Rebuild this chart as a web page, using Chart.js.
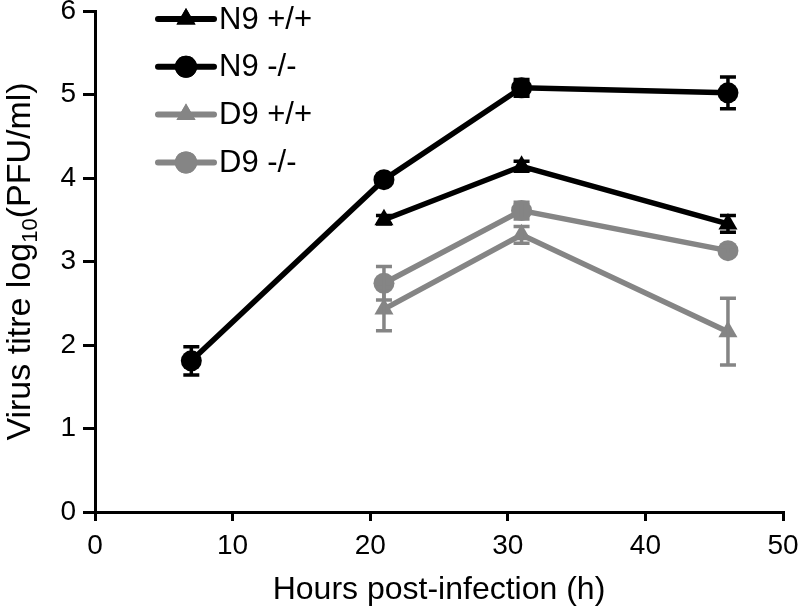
<!DOCTYPE html>
<html>
<head>
<meta charset="utf-8">
<script src="https://cdn.jsdelivr.net/npm/chart.js@4"></script>
<style>
  html, body { margin: 0; padding: 0; background: #fff; }
  #wrap { width: 800px; height: 614px; }
</style>
</head>
<body>
<div id="wrap"><canvas id="titreChart" width="800" height="614"></canvas></div>
<script>
// values
const seriesNames = ['N9 +/+', 'N9 -/-', 'D9 +/+', 'D9 -/-'];
const n9wtHours = [21, 31, 46];
const n9wtTitre = [3.50, 4.14, 3.45];
const n9wtErr = [0.05, 0.06, 0.10];
const n9koHours = [7, 21, 31, 46];
const n9koTitre = [1.81, 3.98, 5.08, 5.02];
const n9koErr = [0.17, 0.05, 0.10, 0.19];
const d9wtHours = [21, 31, 46];
const d9wtTitre = [2.43, 3.32, 2.16];
const d9wtErr = [0.26, 0.10, 0.40];
const d9koHours = [21, 31, 46];
const d9koTitre = [2.74, 3.61, 3.13];
const d9koErr = [0.20, 0.10, 0.05];
const xTicks = [0, 10, 20, 30, 40, 50];
const yTicks = [0, 1, 2, 3, 4, 5, 6];

const black = '#000000';
const grey = '#858585';
const fontFam = '"Liberation Sans", Arial, sans-serif';

function pts(xs, ys) {
  return xs.map((x, i) => ({ x: x, y: ys[i] }));
}

function makeSet(label, xs, ys, errs, colour, shape) {
  return {
    label: label,
    data: pts(xs, ys),
    errors: errs,
    borderColor: colour,
    backgroundColor: colour,
    borderWidth: 5.5,
    pointStyle: shape,
    pointRadius: shape === 'triangle' ? 11 : 10.5,
    pointBorderWidth: 0,
    pointBackgroundColor: colour,
    fill: false,
    tension: 0
  };
}

const errorBars = {
  id: 'errorBars',
  afterDatasetsDraw(chart) {
    const ctx = chart.ctx;
    const ys = chart.scales.y;
    chart.data.datasets.forEach((ds, di) => {
      const meta = chart.getDatasetMeta(di);
      ctx.save();
      ctx.strokeStyle = ds.borderColor;
      ctx.lineWidth = 3.5;
      meta.data.forEach((el, i) => {
        const v = ds.data[i].y, e = ds.errors[i];
        const top = ys.getPixelForValue(v + e);
        const bot = ys.getPixelForValue(v - e);
        ctx.beginPath();
        ctx.moveTo(el.x, top); ctx.lineTo(el.x, bot);
        ctx.moveTo(el.x - 8, top); ctx.lineTo(el.x + 8, top);
        ctx.moveTo(el.x - 8, bot); ctx.lineTo(el.x + 8, bot);
        ctx.stroke();
      });
      ctx.restore();
    });
  }
};

const insideLegend = {
  id: 'insideLegend',
  afterDraw(chart) {
    const ctx = chart.ctx;
    chart.data.datasets.forEach((ds, i) => {
      const y = 19 + i * 47.8;
      ctx.save();
      ctx.strokeStyle = ds.borderColor;
      ctx.fillStyle = ds.borderColor;
      ctx.lineWidth = 6;
      ctx.lineCap = 'round';
      ctx.beginPath();
      ctx.moveTo(158, y); ctx.lineTo(214, y);
      ctx.stroke();
      Chart.helpers.drawPoint(ctx, { pointStyle: ds.pointStyle, radius: 11, borderWidth: 0 }, 186, y);
      ctx.fill();
      ctx.fillStyle = black;
      ctx.font = '31px ' + fontFam;
      ctx.textBaseline = 'middle';
      ctx.fillText(ds.label, 219, y + 1);
      ctx.restore();
    });
  }
};

// y title drawn by hand so that "10" can sit as a subscript
const yTitle = {
  id: 'yTitle',
  afterDraw(chart) {
    const ctx = chart.ctx;
    const area = chart.chartArea;
    const partA = 'Virus titre log';
    const sub = '10';
    const partB = '(PFU/ml)';
    ctx.save();
    ctx.fillStyle = black;
    ctx.textBaseline = 'alphabetic';
    const big = '34px ' + fontFam, small = '22px ' + fontFam;
    ctx.font = big;
    const wA = ctx.measureText(partA).width, wB = ctx.measureText(partB).width;
    ctx.font = small;
    const wS = ctx.measureText(sub).width;
    const total = wA + wS + wB;
    ctx.translate(30, (area.top + area.bottom) / 2);
    ctx.rotate(-Math.PI / 2);
    let x = -total / 2;
    ctx.font = big;
    ctx.fillText(partA, x, 0); x += wA;
    ctx.font = small;
    ctx.fillText(sub, x, 7); x += wS;
    ctx.font = big;
    ctx.fillText(partB, x, 0);
    ctx.restore();
  }
};

const ctx = document.getElementById('titreChart').getContext('2d');
new Chart(ctx, {
  type: 'line',
  data: {
    datasets: [
      makeSet(seriesNames[0], n9wtHours, n9wtTitre, n9wtErr, black, 'triangle'),
      makeSet(seriesNames[1], n9koHours, n9koTitre, n9koErr, black, 'circle'),
      makeSet(seriesNames[2], d9wtHours, d9wtTitre, d9wtErr, grey, 'triangle'),
      makeSet(seriesNames[3], d9koHours, d9koTitre, d9koErr, grey, 'circle')
    ]
  },
  options: {
    responsive: false,
    animation: false,
    layout: { padding: { top: 10, right: 17, left: 0, bottom: 0 } },
    plugins: {
      legend: { display: false },
      tooltip: { enabled: false }
    },
    scales: {
      x: {
        type: 'linear',
        min: 0, max: 50,
        afterFit(s) { s.height = 102; s.paddingLeft = 0; s.paddingRight = 0; },
        afterBuildTicks(s) { s.ticks = xTicks.map(v => ({ value: v })); },
        grid: { drawOnChartArea: false, drawTicks: true, tickLength: 9, color: black, lineWidth: 3 },
        border: { color: black, width: 3 },
        ticks: { color: black, font: { size: 28, family: fontFam }, padding: 8, maxRotation: 0 },
        title: { display: true, text: 'Hours post-infection (h)', color: black, font: { size: 32, family: fontFam }, padding: { top: 0, bottom: 5 } }
      },
      y: {
        min: 0, max: 6,
        afterFit(s) { s.width = 95; s.paddingTop = 0; s.paddingBottom = 0; },
        afterBuildTicks(s) { s.ticks = yTicks.map(v => ({ value: v })); },
        grid: { drawOnChartArea: false, drawTicks: true, tickLength: 12, color: black, lineWidth: 3 },
        border: { color: black, width: 3 },
        ticks: { color: black, font: { size: 28, family: fontFam }, padding: 7 },
        title: { display: false }
      }
    }
  },
  plugins: [errorBars, insideLegend, yTitle]
});
</script>
</body>
</html>
